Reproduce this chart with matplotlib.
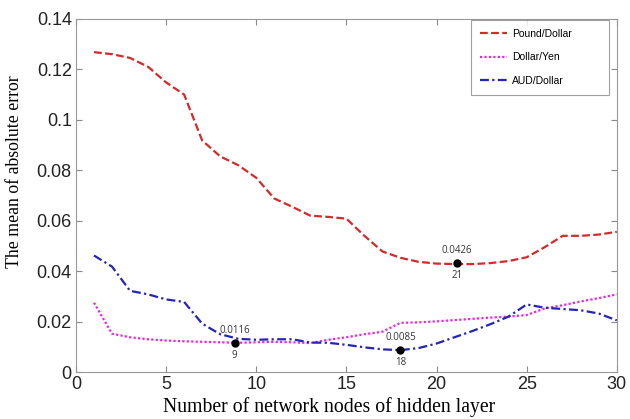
import matplotlib.pyplot as plt
import numpy as np

nodes = np.arange(1, 31)
pound_dollar = [0.1268, 0.1260, 0.1245, 0.1210, 0.1148, 0.1100, 0.0918, 0.0855, 0.0820, 0.0770,
                0.0688, 0.0655, 0.0620, 0.0615, 0.0608, 0.0540, 0.0478, 0.0453, 0.0437, 0.0430,
                0.0428, 0.0428, 0.0432, 0.0440, 0.0455, 0.0495, 0.0540, 0.0540, 0.0545, 0.0556]
dollar_yen = [0.0275, 0.0152, 0.0138, 0.0130, 0.0125, 0.0122, 0.0120, 0.0118, 0.0116, 0.0118,
              0.0120, 0.0118, 0.0115, 0.0128, 0.0138, 0.0150, 0.0160, 0.0195, 0.0197, 0.0201,
              0.0206, 0.0211, 0.0216, 0.0220, 0.0226, 0.0252, 0.0265, 0.0280, 0.0293, 0.0308]
aud_dollar = [0.0462, 0.0418, 0.0322, 0.0308, 0.0288, 0.0278, 0.0192, 0.0150, 0.0132, 0.0128,
              0.0130, 0.0130, 0.0117, 0.0116, 0.0108, 0.0098, 0.0090, 0.0087, 0.0095, 0.0113,
              0.0138, 0.0163, 0.0190, 0.0220, 0.0268, 0.0255, 0.0250, 0.0245, 0.0232, 0.0205]

# marked minima: position, value label, node label
min_x = [8.8, 18, 21.15]
min_y = [0.0116, 0.0087, 0.0432]
min_val = ['0.0116', '0.0085', '0.0426']
min_node = ['9', '18', '21']

fig = plt.figure(figsize=(6.3, 4.19), dpi=100)
ax = fig.add_axes([0.1206, 0.112, 0.8584, 0.843])

ax.plot(nodes, pound_dollar, color='#d42a2a', linestyle=(0, (3.5, 1.5)), lw=1.6, label='Pound/Dollar')
ax.plot(nodes, dollar_yen, color='#ee22ee', linestyle=(0, (1, 1)), lw=1.6, label='Dollar/Yen')
ax.plot(nodes, aud_dollar, color='#2424b8', linestyle=(0, (4, 1.5, 1, 1.5)), lw=1.6, label='AUD/Dollar')

ax.plot(min_x, min_y, 'o', color='black', ms=5, zorder=5)
for x, y, v, n in zip(min_x, min_y, min_val, min_node):
    ax.text(x, y + 0.0028, v, ha='center', va='bottom', fontsize=7, color='#333333',
            family='Open Sans')
    ax.text(x, y - 0.0028, n, ha='center', va='top', fontsize=7, color='#333333',
            family='Open Sans')

ax.set_xlim(0, 30)
ax.set_ylim(0, 0.14)
ax.set_xticks([0, 5, 10, 15, 20, 25, 30])
ax.set_yticks([0, 0.02, 0.04, 0.06, 0.08, 0.1, 0.12, 0.14])
ax.set_yticklabels(['0', '0.02', '0.04', '0.06', '0.08', '0.1', '0.12', '0.14'])
ax.tick_params(direction='in', top=True, right=True, length=4, color='#888888',
               labelsize=13, pad=3)
for lbl in ax.get_xticklabels() + ax.get_yticklabels():
    lbl.set_family('Liberation Sans')
    lbl.set_color('#222222')
for sp in ax.spines.values():
    sp.set_color('#999999')

ax.set_xlabel('Number of network nodes of hidden layer', family='Liberation Serif',
              fontsize=14.2)
ax.xaxis.set_label_coords(0.468, -0.07)
ax.set_ylabel('The mean of absolute error', family='Liberation Serif', fontsize=12.8)
ax.yaxis.set_label_coords(-0.098, 0.568)

leg = ax.legend(loc='upper left', prop={'family': 'Liberation Sans', 'size': 7.5},
                fancybox=False, edgecolor='#888888', handlelength=2.6, borderpad=0.9,
                labelspacing=1.3, handletextpad=0.5, mode='expand', borderaxespad=0,
                bbox_to_anchor=(0.730, 0.795, 0.255, 0.203))
leg.get_frame().set_linewidth(0.8)

fig.savefig('out.png', dpi=100)
